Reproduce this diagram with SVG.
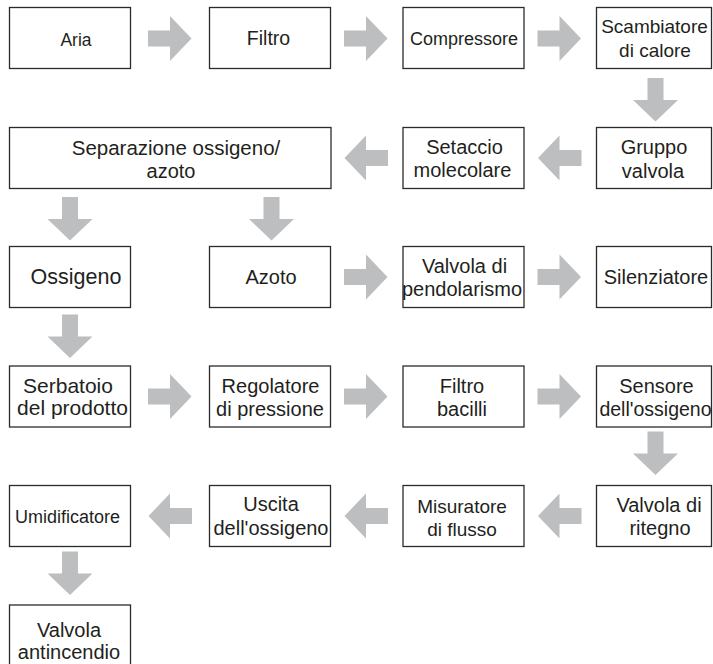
<svg xmlns="http://www.w3.org/2000/svg" xmlns:xlink="http://www.w3.org/1999/xlink" width="713" height="664" viewBox="0 0 713 664">
<style>
.box{fill:#fff;stroke:#2b2b2b;stroke-width:1.3}
.t{font-family:"Liberation Sans",Arial,sans-serif;font-size:20px;fill:#231f20;text-anchor:middle}
.arr{fill:#bcbec0}
</style>
<defs>
<path id="ar" d="M-22,-8 H0 V-22.5 L21.5,0 L0,22.5 V8 H-22 Z"/>
</defs>
<rect width="713" height="664" fill="#fff"/>
<g id="connectors" class="arr">
<use xlink:href="#ar" transform="translate(170,38.5)"/>
<use xlink:href="#ar" transform="translate(366,38.5)"/>
<use xlink:href="#ar" transform="translate(559.5,38.5)"/>
<use xlink:href="#ar" transform="translate(655.5,100) rotate(90)"/>
<use xlink:href="#ar" transform="translate(559.5,158) rotate(180)"/>
<use xlink:href="#ar" transform="translate(366,158) rotate(180)"/>
<use xlink:href="#ar" transform="translate(70,219) rotate(90)"/>
<use xlink:href="#ar" transform="translate(271.5,219) rotate(90)"/>
<use xlink:href="#ar" transform="translate(366,277)"/>
<use xlink:href="#ar" transform="translate(559.5,277)"/>
<use xlink:href="#ar" transform="translate(70,336.5) rotate(90)"/>
<use xlink:href="#ar" transform="translate(170,396.5)"/>
<use xlink:href="#ar" transform="translate(366,396.5)"/>
<use xlink:href="#ar" transform="translate(559.5,396.5)"/>
<use xlink:href="#ar" transform="translate(655.5,453.5) rotate(90)"/>
<use xlink:href="#ar" transform="translate(559.5,516) rotate(180)"/>
<use xlink:href="#ar" transform="translate(366,516) rotate(180)"/>
<use xlink:href="#ar" transform="translate(170,516) rotate(180)"/>
<use xlink:href="#ar" transform="translate(70,573.5) rotate(90)"/>
</g>
<g id="n1"><rect class="box" x="9.5" y="7.5" width="121" height="61"/><text class="t" x="76" y="45.5" style="font-size:17.5px">Aria</text></g>
<g id="n2"><rect class="box" x="209.5" y="7.5" width="121" height="61"/><text class="t" x="268.5" y="45" style="font-size:19.5px">Filtro</text></g>
<g id="n3"><rect class="box" x="403" y="7.5" width="121" height="61"/><text class="t" x="464" y="44.5" style="font-size:18px">Compressore</text></g>
<g id="n4"><rect class="box" x="596.5" y="7.5" width="115" height="61"/><text class="t" x="654.5" y="33" style="font-size:19px">Scambiatore</text><text class="t" x="655" y="57" style="font-size:19px">di calore</text></g>
<g id="n5"><rect class="box" x="596.5" y="127.5" width="115" height="61"/><text class="t" x="654" y="154">Gruppo</text><text class="t" x="653" y="177.5">valvola</text></g>
<g id="n6"><rect class="box" x="403" y="127.5" width="121" height="61"/><text class="t" x="464.5" y="154">Setaccio</text><text class="t" x="462.5" y="177">molecolare</text></g>
<g id="n7"><rect class="box" x="9.5" y="127.5" width="321.5" height="61"/><text class="t" x="176" y="154.5" style="font-size:20.5px">Separazione ossigeno/</text><text class="t" x="171" y="177.5">azoto</text></g>
<g id="n8"><rect class="box" x="9.5" y="246.5" width="121" height="61"/><text class="t" x="76" y="284" style="font-size:21.5px">Ossigeno</text></g>
<g id="n9"><rect class="box" x="209.5" y="246.5" width="121" height="61"/><text class="t" x="271" y="284">Azoto</text></g>
<g id="n10"><rect class="box" x="403" y="246.5" width="121" height="61"/><text class="t" x="464.5" y="273">Valvola di</text><text class="t" x="462" y="296">pendolarismo</text></g>
<g id="n11"><rect class="box" x="596.5" y="246.5" width="115" height="61"/><text class="t" x="656" y="284">Silenziatore</text></g>
<g id="n12"><rect class="box" x="9.5" y="366" width="121" height="61"/><text class="t" x="68" y="393" style="font-size:21px">Serbatoio</text><text class="t" x="72.5" y="415" style="font-size:21px">del prodotto</text></g>
<g id="n13"><rect class="box" x="209.5" y="366" width="121" height="61"/><text class="t" x="270.5" y="392.5">Regolatore</text><text class="t" x="270" y="415.5">di pressione</text></g>
<g id="n14"><rect class="box" x="403" y="366" width="121" height="61"/><text class="t" x="462" y="392.5">Filtro</text><text class="t" x="462" y="415.5">bacilli</text></g>
<g id="n15"><rect class="box" x="596.5" y="366" width="115" height="61"/><text class="t" x="656.5" y="392.5">Sensore</text><text class="t" x="655.5" y="415.5" style="font-size:19.5px">dell'ossigeno</text></g>
<g id="n16"><rect class="box" x="596.5" y="485.5" width="115" height="61"/><text class="t" x="659" y="512">Valvola di</text><text class="t" x="660" y="535">ritegno</text></g>
<g id="n17"><rect class="box" x="403" y="485.5" width="121" height="61"/><text class="t" x="462" y="512.5" style="font-size:19px">Misuratore</text><text class="t" x="462" y="535.5" style="font-size:19px">di flusso</text></g>
<g id="n18"><rect class="box" x="209.5" y="485.5" width="121" height="61"/><text class="t" x="271" y="511">Uscita</text><text class="t" x="271" y="535">dell'ossigeno</text></g>
<g id="n19"><rect class="box" x="9.5" y="485.5" width="121" height="61"/><text class="t" x="67.5" y="523" style="font-size:18px">Umidificatore</text></g>
<g id="n20"><rect class="box" x="9.5" y="605" width="121" height="72"/><text class="t" x="69" y="636.5">Valvola</text><text class="t" x="69" y="659">antincendio</text></g>
</svg>
